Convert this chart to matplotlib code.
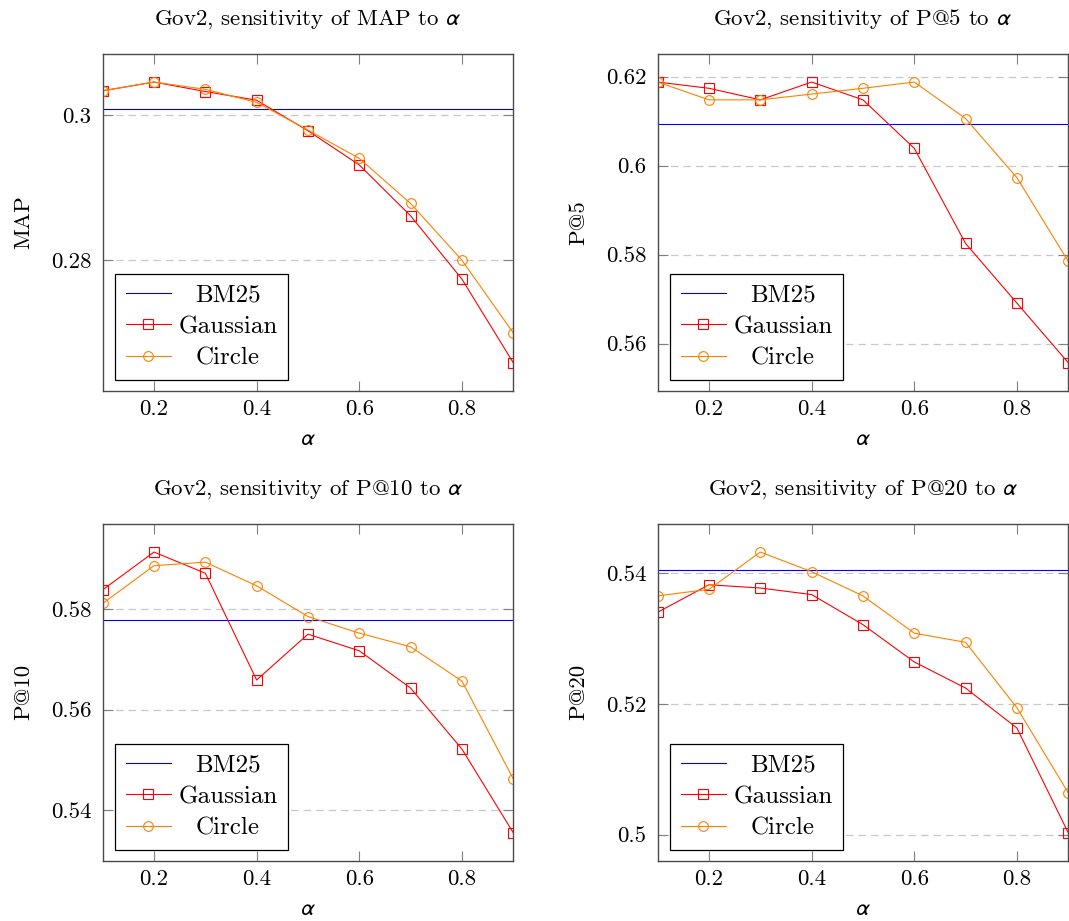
import numpy as np
import matplotlib
matplotlib.use("Agg")
import matplotlib.pyplot as plt

# =====================================================
# DATA
# =====================================================

alpha = [0.1, 0.2, 0.3, 0.4, 0.5, 0.6, 0.7, 0.8, 0.9]

metrics = ["MAP", "P@5", "P@10", "P@20"]

bm25_map = 0.3008
gauss_map = [0.3033, 0.3045, 0.3032, 0.3020, 0.2978, 0.2931, 0.2861, 0.2774, 0.2659]
circle_map = [0.3033, 0.3045, 0.3035, 0.3017, 0.2979, 0.2940, 0.2878, 0.2800, 0.2700]

bm25_p5 = 0.6094
gauss_p5 = [0.6188, 0.6174, 0.6148, 0.6188, 0.6148, 0.6039, 0.5825, 0.5691, 0.5557]
circle_p5 = [0.6188, 0.6148, 0.6148, 0.6161, 0.6174, 0.6188, 0.6106, 0.5973, 0.5785]

bm25_p10 = 0.5779
gauss_p10 = [0.5838, 0.5913, 0.5871, 0.5659, 0.5750, 0.5717, 0.5643, 0.5522, 0.5356]
circle_p10 = [0.5811, 0.5886, 0.5893, 0.5846, 0.5785, 0.5752, 0.5725, 0.5657, 0.5463]

bm25_p20 = 0.5405
gauss_p20 = [0.5340, 0.5382, 0.5377, 0.5367, 0.5321, 0.5264, 0.5224, 0.5163, 0.5003]
circle_p20 = [0.5365, 0.5375, 0.5432, 0.5402, 0.5365, 0.5308, 0.5294, 0.5194, 0.5064]

xticks = [0.2, 0.4, 0.6, 0.8]
yticks = [
    [0.28, 0.3],
    [0.56, 0.58, 0.6, 0.62],
    [0.54, 0.56, 0.58],
    [0.5, 0.52, 0.54],
]

bm25 = [bm25_map, bm25_p5, bm25_p10, bm25_p20]
gauss = [gauss_map, gauss_p5, gauss_p10, gauss_p20]
circle = [circle_map, circle_p5, circle_p10, circle_p20]

# =====================================================
# STYLE
# =====================================================

plt.rcParams["font.family"] = ["cmr10", "DejaVu Sans"]
plt.rcParams["axes.formatter.use_mathtext"] = True
plt.rcParams["mathtext.fontset"] = "stixsans"

ORANGE = "#ff8000"
FS = 16.5
LEG_FS = 18
ALPHA = r"$\alpha$"

# =====================================================
# PLOT
# =====================================================

fig = plt.figure(figsize=(10.69, 9.21), dpi=100)

W, H = 1069, 921
ax_w, ax_h = 410.5, 336.7
lefts = [102.7, 657.7]
tops = [54.0, 524.0]

legends = []

for i in range(4):
    row, col = divmod(i, 2)
    ax = fig.add_axes([lefts[col] / W, (H - tops[row] - ax_h) / H, ax_w / W, ax_h / H])

    ax.axhline(bm25[i], color="blue", lw=0.8, label="BM25")
    ax.plot(alpha, gauss[i], color="red", lw=0.8, marker="s", ms=7,
            mfc="none", mec="red", mew=0.8, label="Gaussian")
    ax.plot(alpha, circle[i], color=ORANGE, lw=0.8, marker="o", ms=7,
            mfc="none", mec=ORANGE, mew=0.8, label="Circle")

    allv = np.array(gauss[i] + circle[i] + [bm25[i]])
    lo, hi = allv.min(), allv.max()
    pad = 0.1 * (hi - lo)
    ax.set_ylim(lo - pad, hi + pad)
    ax.set_xlim(0.1, 0.9)

    ax.set_xticks(xticks)
    ax.set_xticklabels([f"{t:g}" for t in xticks])
    ax.set_yticks(yticks[i])
    ax.set_yticklabels([f"{t:g}" for t in yticks[i]])

    ax.grid(axis="y", color="#c8c8c8", ls=(0, (6, 4)), lw=0.9)
    ax.set_axisbelow(True)

    ax.tick_params(direction="in", length=7.5, width=0.8, color="#808080",
                   top=True, right=True, labelsize=FS)
    ax.tick_params(axis="x", pad=6)
    ax.tick_params(axis="y", pad=8)
    for s in ax.spines.values():
        s.set_color("#4a4a4a")
        s.set_linewidth(1.0)

    ax.set_title(f"Gov2, sensitivity of {metrics[i]} to {ALPHA}", fontsize=FS, pad=21)
    ax.set_xlabel(ALPHA, fontsize=FS, labelpad=8)
    ax.set_ylabel(metrics[i], fontsize=FS, labelpad=13)

    leg = ax.legend(loc="lower left", bbox_to_anchor=(0.031, 0.032), borderaxespad=0,
                    fontsize=LEG_FS, fancybox=False, framealpha=1, edgecolor="black",
                    handlelength=1.8, labelspacing=0.35, borderpad=0.42,
                    handletextpad=0.3)
    leg.get_frame().set_linewidth(0.9)
    leg.set_zorder(5)
    legends.append(leg)

# legend text centred like pgfplots
fig.canvas.draw()
renderer = fig.canvas.get_renderer()
for leg in legends:
    texts = leg.get_texts()
    widths = [t.get_window_extent(renderer).width for t in texts]
    wmax = max(widths)
    for t, w in zip(texts, widths):
        t.set_x((wmax - w) / 2)

fig.savefig("out.png", dpi=100)
